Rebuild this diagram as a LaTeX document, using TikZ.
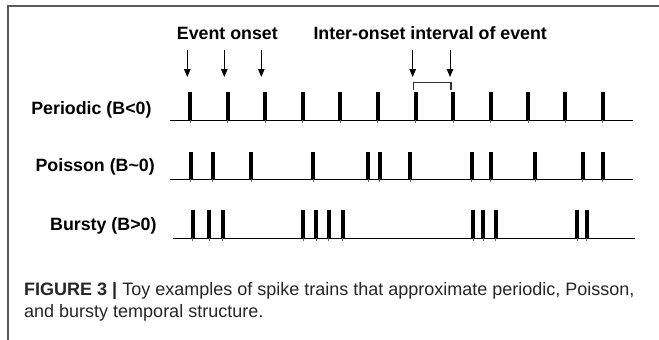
\documentclass[tikz,border=0pt]{standalone}
\usepackage{fontspec}
\setmainfont{Liberation Sans}
\usetikzlibrary{arrows.meta}
\begin{document}
\begin{tikzpicture}[x=1pt,y=-1pt,
  lbl/.style={inner sep=0pt,font=\bfseries\fontsize{17.8}{20}\selectfont},
  captext/.style={inner sep=0pt,font=\fontsize{18}{22}\selectfont,text=black!85},
  frameline/.style={draw=black!65,line width=1.3pt},
  baseln/.style={draw=black,line width=1.3pt},
  evarrow/.style={draw=black,line width=1pt,-{Triangle[width=6.5pt,length=8pt]}},
  bracketln/.style={draw=black!80,line width=1.3pt}]
\useasboundingbox (0,0) rectangle (659,340);
\fill[white] (0,0) rectangle (659,340);
% frame
\draw[frameline] (659,6) -- (8,6) -- (8,340);
% headings
\node[lbl,anchor=base west] (hev) at (176.7,39) {Event onset};
\node[lbl,anchor=base west] (hioi) at (313.3,39) {Inter-onset interval of event};
% row labels
\node[lbl,anchor=base east] (lper) at (151.7,114) {Periodic (B<0)};
\node[lbl,anchor=base east] (lpoi) at (155,171.7) {Poisson (B\char`~0)};
\node[lbl,anchor=base east] (lbur) at (156.7,230.8) {Bursty (B>0)};
% baselines
\draw[baseln] (170,120.3) -- (633,120.3);
\draw[baseln] (170,179.3) -- (633,179.3);
\draw[baseln] (172.7,238.3) -- (635,238.3);
% spikes
\foreach \x in {190,227.5,265,302.5,340,377.5,415.5,453,490.5,528,565.3,602.7}{
  \fill (\x-2,92.3) rectangle (\x+2,120.3);
  \draw[black!60,line width=0.6pt] (\x,120.3) -- (\x,123);
}
\foreach \x in {190.7,212.7,251,313.3,368,379.5,410,471.7,490.7,535,582.5,602.7}{
  \fill (\x-2,151.7) rectangle (\x+2,179.3);
  \draw[black!60,line width=0.6pt] (\x,179.3) -- (\x,182);
}
\foreach \x in {192.7,209.3,222.5,303,316,328.5,342.5,473.3,483.3,495.7,577.3,586.7}{
  \fill (\x-2,210) rectangle (\x+2,238.3);
  \draw[black!60,line width=0.6pt] (\x,238.3) -- (\x,241);
}
% arrows
\foreach \i/\x in {1/187.3,2/224.3,3/261.3,4/412.7,5/450}{
  \coordinate (at\i) at (\x,50);
  \coordinate (ab\i) at (\x,77);
  \draw[evarrow] (at\i) -- (ab\i);
}
% bracket
\coordinate (bl) at (413.3,90);
\coordinate (br) at (451,90);
\draw[bracketln] (bl) -- ++(0,-7.7) -| (br);
% caption
\node[captext,anchor=base west] (c1) at (24,295) {\textbf{FIGURE 3 |} Toy examples of spike trains that approximate periodic, Poisson,};
\node[captext,anchor=base west] (c2) at (24,317) {and bursty temporal structure.};
\end{tikzpicture}
\end{document}
